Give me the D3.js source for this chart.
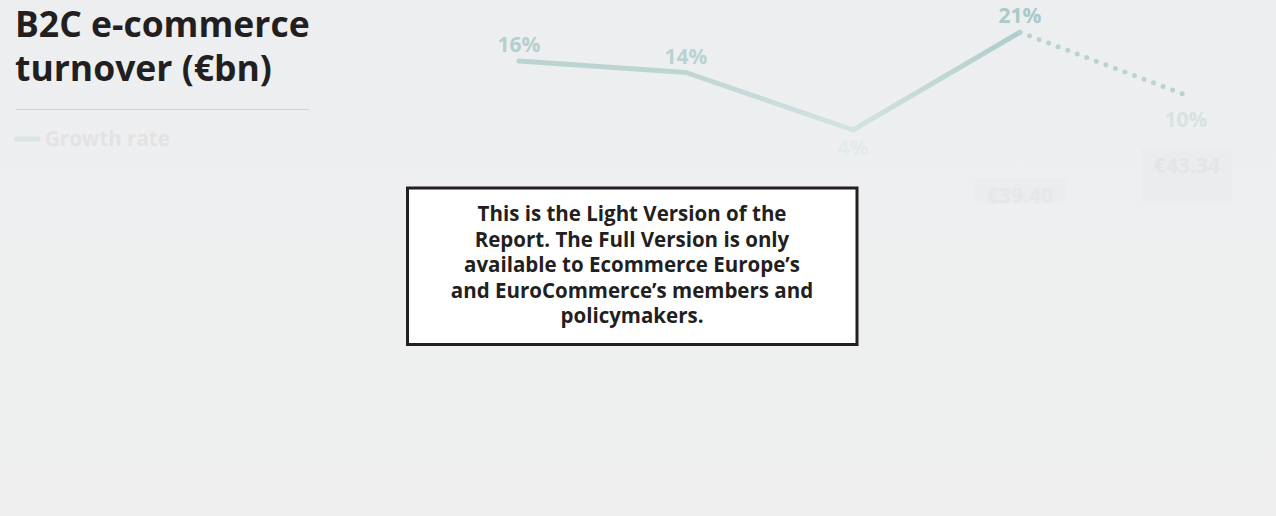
<!DOCTYPE html>
<html><head><meta charset="utf-8">
<script src="https://cdn.jsdelivr.net/npm/d3@7"></script>
<style>
html,body{margin:0;padding:0;background:#efefef;}
svg{display:block;font-family:"Open Sans",sans-serif;}
</style></head>
<body>
<svg id="chart" width="1276" height="516"></svg>
<script>
// ---- data ----
const categories = ["Y1", "Y2", "Y3", "Y4", "Y5"];
const growthRate = [16, 14, 4, 21, 10];          // %
const forecastFrom = 3;                           // index where dotted (forecast) segment starts
const barCategories = ["Y4", "Y5"];
const barValues = [39.40, 43.34];                 // €bn (only visible bars)
const titleLines = ["B2C e-commerce", "turnover (€bn)"];
const legendLabel = "Growth rate";
const noticeLines = ["This is the Light Version of the", "Report. The Full Version is only",
  "available to Ecommerce Europe’s", "and EuroCommerce’s members and", "policymakers."];

const svg = d3.select("#chart");
const W = 1276, H = 516;
const defs = svg.append("defs");

// background
const bg = defs.append("linearGradient").attr("id","bg").attr("x1",0).attr("y1",0).attr("x2",0).attr("y2",1);
bg.append("stop").attr("offset","0%").attr("stop-color","#edeef0");
bg.append("stop").attr("offset","40%").attr("stop-color","#eeeff0");
bg.append("stop").attr("offset","100%").attr("stop-color","#efefef");
svg.append("rect").attr("width",W).attr("height",H).attr("fill","url(#bg)");

// scales
const x = d3.scalePoint().domain(categories).range([519, 1187]);
const y = d3.scaleLinear().domain([0, 21]).range([153, 32.25]);
const yb = d3.scaleLinear().domain([0, 43.34]).range([477, 148]);
const barW = 90;
const fade = d3.scaleLinear().domain([20, 160]).range(["#a9cac7", "#e8eeee"]).clamp(true);

// bars (faded out by the overlay)
const bgrad = defs.append("linearGradient").attr("id","bar").attr("gradientUnits","userSpaceOnUse")
  .attr("x1",0).attr("y1",140).attr("x2",0).attr("y2",210);
bgrad.append("stop").attr("offset","0%").attr("stop-color","#eaeced");
bgrad.append("stop").attr("offset","85%").attr("stop-color","#ebeced");
bgrad.append("stop").attr("offset","100%").attr("stop-color","#eeefef");
const bars = svg.append("g");
const barText = ["#e6e7e8", "#e4e5e6"];
barCategories.forEach((c,i)=>{
  const bx = x(c) - barW/2, by = yb(barValues[i]);
  bars.append("rect").attr("x",bx).attr("y",by).attr("width",barW).attr("height",Math.min(204, yb(0))-by).attr("fill","url(#bar)");
  bars.append("text").attr("x",x(c)).attr("y",by+25).attr("text-anchor","middle")
    .attr("font-size",21).attr("font-weight",700).attr("fill",barText[i])
    .text("€" + barValues[i].toFixed(2));
});

// line
const lg = defs.append("linearGradient").attr("id","lineg").attr("gradientUnits","userSpaceOnUse")
  .attr("x1",0).attr("y1",20).attr("x2",0).attr("y2",160);
lg.append("stop").attr("offset","0%").attr("stop-color","#a9cac7");
lg.append("stop").attr("offset","100%").attr("stop-color","#dfeaea");
const pts = categories.map((c,i)=>[x(c), y(growthRate[i])]);
const line = d3.line();
svg.append("path").attr("d", line(pts.slice(0, forecastFrom+1)))
  .attr("fill","none").attr("stroke","url(#lineg)").attr("stroke-width",5)
  .attr("stroke-linecap","round").attr("stroke-linejoin","round");
svg.append("path").attr("d", line(pts.slice(forecastFrom)))
  .attr("fill","none").attr("stroke","#b9d3d1").attr("stroke-width",5)
  .attr("stroke-linecap","round").attr("stroke-dasharray","0 10.2");

// labels
categories.forEach((c,i)=>{
  const px = x(c), py = y(growthRate[i]);
  const prevV = i>0 ? growthRate[i-1] : -Infinity;
  const below = growthRate[i] < prevV - 5;
  const ly = below ? py + (i===4 ? 31 : 25) : py - 9;
  svg.append("text").attr("x", px + (i===4?-1:0)).attr("y", ly).attr("text-anchor","middle")
    .attr("font-size",21).attr("font-weight",700).attr("fill", fade(ly - 8))
    .text(growthRate[i] + "%");
});

// title
svg.append("g").selectAll("text").data(titleLines).join("text")
  .attr("x",15).attr("y",(d,i)=>37+i*44).attr("font-size",35.5).attr("font-weight",700)
  .attr("fill","#231f20").text(d=>d);
svg.append("line").attr("x1",16).attr("x2",309).attr("y1",109.5).attr("y2",109.5)
  .attr("stroke","#d2d3d5").attr("stroke-width",1);

// legend
svg.append("line").attr("x1",16).attr("x2",38).attr("y1",139).attr("y2",139)
  .attr("stroke","#d9e6e5").attr("stroke-width",5).attr("stroke-linecap","round");
svg.append("text").attr("x",45).attr("y",146).attr("font-size",20.5).attr("font-weight",700)
  .attr("fill","#e3e3e3").text(legendLabel);

// notice box
const box = svg.append("g");
box.append("rect").attr("x",407.5).attr("y",188).attr("width",449.5).attr("height",156.5)
  .attr("fill","#ffffff").attr("stroke","#231f20").attr("stroke-width",3);
box.selectAll("text").data(noticeLines).join("text")
  .attr("x",632).attr("y",(d,i)=>221+i*25.5).attr("text-anchor","middle")
  .attr("font-size",20.5).attr("font-weight",700).attr("fill","#231f20").text(d=>d);
</script>
</body></html>
